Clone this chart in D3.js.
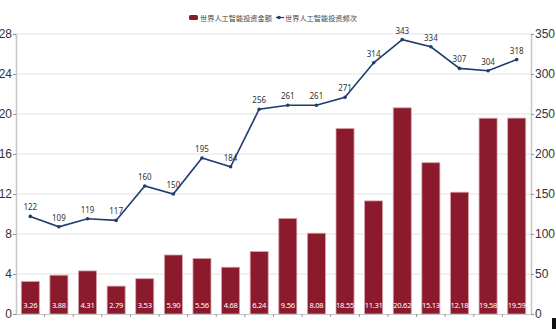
<!DOCTYPE html>
<html>
<head>
<meta charset="utf-8">
<script src="https://cdn.jsdelivr.net/npm/d3@7"></script>
<style>
  html, body { margin: 0; padding: 0; background: #fff; }
  svg { display: block; font-family: "Noto Sans", "Noto Sans CJK SC", sans-serif; }
</style>
</head>
<body>
<svg id="chart" width="556" height="329"></svg>
<script>
// Investment amount (bars, left axis) and investment count (line, right axis)
const categories = d3.range(1, 19).map(String);
const amounts = [3.26, 3.88, 4.31, 2.79, 3.53, 5.90, 5.56, 4.68, 6.24, 9.56, 8.08, 18.55, 11.31, 20.62, 15.13, 12.18, 19.58, 19.59];
const counts = [122, 109, 119, 117, 160, 150, 195, 184, 256, 261, 261, 271, 314, 343, 334, 307, 304, 318];
const leftTicks = [0, 4, 8, 12, 16, 20, 24, 28];
const rightTicks = [0, 50, 100, 150, 200, 250, 300, 350];
const seriesNames = ["世界人工智能投资金额", "世界人工智能投资频次"];

const svg = d3.select("#chart");
const m = { left: 16, right: 531, top: 34, bottom: 314 };

const x = d3.scaleBand().domain(categories).range([m.left, m.right]).paddingInner(0.37).paddingOuter(0.185);
const yL = d3.scaleLinear().domain([0, 28]).range([m.bottom, m.top]);
const yR = d3.scaleLinear().domain([0, 350]).range([m.bottom, m.top]);

// grid
svg.append("g").selectAll("line").data(leftTicks.slice(1)).join("line")
  .attr("x1", m.left).attr("x2", m.right)
  .attr("y1", d => yL(d)).attr("y2", d => yL(d))
  .attr("stroke", "#e3e3e3").attr("stroke-width", 1);

// bars
svg.append("g").selectAll("rect").data(amounts).join("rect")
  .attr("x", (d, i) => x(categories[i]))
  .attr("y", d => yL(d))
  .attr("width", x.bandwidth())
  .attr("height", d => yL(0) - yL(d))
  .attr("fill", "#8a1a2c")
  .attr("stroke", "#d9a3ab").attr("stroke-width", 0.8);

svg.append("g").selectAll("text").data(amounts).join("text")
  .attr("x", (d, i) => x(categories[i]) + x.bandwidth() / 2)
  .attr("y", 308)
  .attr("text-anchor", "middle")
  .attr("font-size", 7.6)
  .attr("letter-spacing", -0.3)
  .attr("fill", "#fff")
  .text(d => d.toFixed(2));

// axes
const axisColor = "#c8c8c8";
const gL = svg.append("g").attr("transform", `translate(${m.left},0)`)
  .call(d3.axisLeft(yL).tickValues(leftTicks).tickSize(3).tickPadding(1));
const gR = svg.append("g").attr("transform", `translate(${m.right},0)`)
  .call(d3.axisRight(yR).tickValues(rightTicks).tickSize(3).tickPadding(1));
const gB = svg.append("g").attr("transform", `translate(0,${m.bottom})`)
  .call(d3.axisBottom(x).tickSize(0).tickFormat(""));
[gL, gR].forEach(g => {
  g.select(".domain").attr("stroke", axisColor).attr("stroke-width", 1.6);
  g.selectAll(".tick line").attr("stroke", "#999");
  g.selectAll(".tick text").attr("font-size", 12).attr("fill", "#333")
    .attr("font-family", "'Liberation Sans', sans-serif");
});
gB.select(".domain").attr("stroke", "#c8c8c8");
// separators between categories
svg.append("g").selectAll("line").data(categories.slice(1)).join("line")
  .attr("x1", d => x(d) - x.step() * x.paddingInner() / 2)
  .attr("x2", d => x(d) - x.step() * x.paddingInner() / 2)
  .attr("y1", m.bottom).attr("y2", m.bottom + 3)
  .attr("stroke", "#999");

// line series
const lineColor = "#1f3d70";
const line = d3.line()
  .x((d, i) => x(categories[i]) + x.bandwidth() / 2)
  .y(d => yR(d));
svg.append("path").datum(counts)
  .attr("d", line).attr("fill", "none")
  .attr("stroke", lineColor).attr("stroke-width", 1.6);
svg.append("g").selectAll("circle").data(counts).join("circle")
  .attr("cx", (d, i) => x(categories[i]) + x.bandwidth() / 2)
  .attr("cy", d => yR(d)).attr("r", 1.8).attr("fill", lineColor);
svg.append("g").selectAll("text").data(counts).join("text")
  .attr("x", (d, i) => x(categories[i]) + x.bandwidth() / 2)
  .attr("y", d => yR(d) - 6)
  .attr("text-anchor", "middle")
  .attr("font-size", 8).attr("fill", "#333")
  .text(d => d);

// legend
const lg = svg.append("g").attr("font-size", 7.2).attr("fill", "#444");
lg.append("rect").attr("x", 189).attr("y", 15).attr("width", 9).attr("height", 5)
  .attr("rx", 1.5).attr("fill", "#8a1a2c");
lg.append("text").attr("x", 200).attr("y", 20.5).text(seriesNames[0]);
lg.append("line").attr("x1", 276).attr("x2", 284).attr("y1", 17.5).attr("y2", 17.5)
  .attr("stroke", lineColor).attr("stroke-width", 1.2);
lg.append("circle").attr("cx", 279).attr("cy", 17.5).attr("r", 1.8).attr("fill", lineColor);
lg.append("text").attr("x", 285).attr("y", 20.5).text(seriesNames[1]);

// small dark marker in the bottom-right corner
svg.append("rect").attr("x", 552).attr("y", 318).attr("width", 4).attr("height", 11).attr("fill", "#111");
</script>
</body>
</html>
